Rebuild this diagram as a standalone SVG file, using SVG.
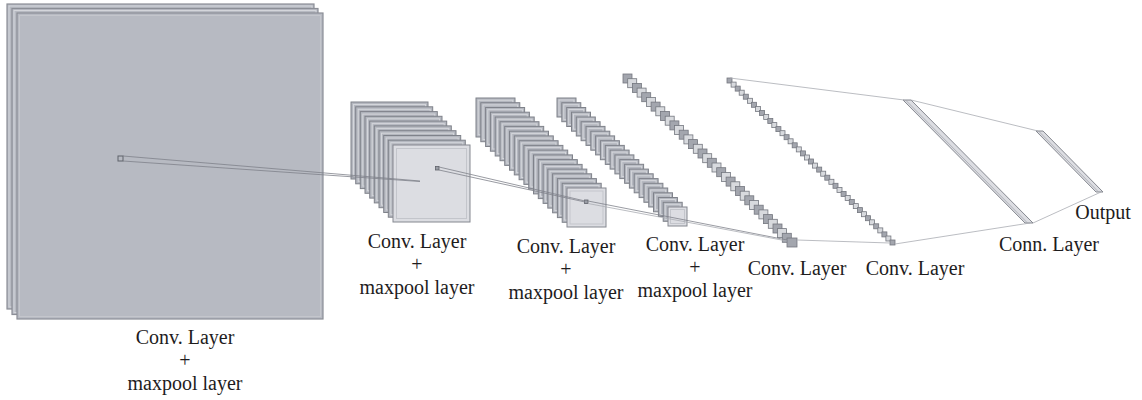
<svg xmlns="http://www.w3.org/2000/svg" xmlns:xlink="http://www.w3.org/1999/xlink" width="1142" height="400" viewBox="0 0 1142 400">
  <style>
    .sheet { fill: #b4b7bf; stroke: #7f828a; stroke-width: 1; }
    .big { fill: #b7bac2; stroke: #8b8e96; stroke-width: 1.2; }
    .rim { fill: none; stroke: #d4d6db; stroke-width: 1; }
    .front { fill: #dcdde2; stroke: #858890; stroke-width: 1; }
    .frontrim { fill: none; stroke: #c3c5cb; stroke-width: 1; }
    .dk { fill: #a3a6ae; stroke: #74777f; stroke-width: 0.8; }
    .lt { fill: #d8dade; stroke: #74777f; stroke-width: 0.8; }
    .bar { fill: #dcdde2; stroke: #858890; stroke-width: 1; }
    .marker { fill: #9a9da5; stroke: #5f626a; stroke-width: 0.8; }
    .link { stroke: #7f828a; stroke-width: 0.8; fill: none; }
    .thin { stroke: #a9acb3; stroke-width: 0.8; fill: none; }
    .lbl { font-size: 20px; fill: #1e1c1d; text-anchor: middle; }
  </style>
  <defs>
    <g id="s77"><rect width="77" height="77" class="sheet"/><rect x="2.5" y="2.5" width="72" height="72" class="rim"/></g>
    <g id="f77"><rect width="77" height="77" class="front"/><rect x="3.5" y="3.5" width="70" height="70" class="frontrim"/></g>
    <g id="s39"><rect width="39" height="39" class="sheet"/><rect x="2.2" y="2.2" width="34.6" height="34.6" class="rim"/></g>
    <g id="f39"><rect width="39" height="39" class="front"/><rect x="3" y="3" width="33" height="33" class="frontrim"/></g>
    <g id="s19"><rect width="19" height="19" class="sheet"/><rect x="2" y="2" width="15" height="15" class="rim"/></g>
    <g id="f19"><rect width="19" height="19" class="front"/><rect x="2.5" y="2.5" width="14" height="14" class="frontrim"/></g>
    <rect id="d9" width="9" height="9" class="dk"/>
    <rect id="l9" width="9" height="9" class="lt"/>
    <rect id="d5" width="5" height="5" class="dk"/>
    <rect id="l5" width="5" height="5" class="lt"/>
  </defs>

  <!-- input layer: three large feature maps -->
  <g id="layer1">
    <rect x="7" y="4" width="307" height="305" class="big"/>
    <rect x="9" y="6" width="303" height="301" class="rim"/>
    <rect x="12" y="8.5" width="306" height="306" class="big"/>
    <rect x="14" y="10.5" width="302" height="302" class="rim"/>
    <rect x="17" y="13" width="306" height="306" class="big"/>
    <rect x="19.5" y="15.5" width="301" height="301" class="rim" style="stroke:#c4c6cc"/>
    <rect x="118" y="156" width="5" height="5" fill="none" stroke="#5f626a" stroke-width="1"/>
  </g>

  <!-- first conv + maxpool stack -->
  <g id="layer2">
    <use xlink:href="#s77" x="351" y="102"/>
    <use xlink:href="#s77" x="355.7" y="106.8"/>
    <use xlink:href="#s77" x="360.3" y="111.6"/>
    <use xlink:href="#s77" x="365" y="116.3"/>
    <use xlink:href="#s77" x="369.7" y="121.1"/>
    <use xlink:href="#s77" x="374.3" y="125.9"/>
    <use xlink:href="#s77" x="379" y="130.7"/>
    <use xlink:href="#s77" x="383.7" y="135.5"/>
    <use xlink:href="#s77" x="388.3" y="140.2"/>
    <use xlink:href="#f77" x="393" y="145"/>
    <rect x="435.5" y="166.5" width="3.5" height="3.5" class="marker"/>
  </g>

  <!-- second conv + maxpool stack -->
  <g id="layer3">
    <use xlink:href="#s39" x="476" y="98"/>
    <use xlink:href="#s39" x="480.8" y="102.7"/>
    <use xlink:href="#s39" x="485.6" y="107.5"/>
    <use xlink:href="#s39" x="490.4" y="112.2"/>
    <use xlink:href="#s39" x="495.2" y="117"/>
    <use xlink:href="#s39" x="500" y="121.7"/>
    <use xlink:href="#s39" x="504.7" y="126.4"/>
    <use xlink:href="#s39" x="509.5" y="131.2"/>
    <use xlink:href="#s39" x="514.3" y="135.9"/>
    <use xlink:href="#s39" x="519.1" y="140.7"/>
    <use xlink:href="#s39" x="523.9" y="145.4"/>
    <use xlink:href="#s39" x="528.7" y="150.1"/>
    <use xlink:href="#s39" x="533.5" y="154.9"/>
    <use xlink:href="#s39" x="538.3" y="159.6"/>
    <use xlink:href="#s39" x="543.1" y="164.4"/>
    <use xlink:href="#s39" x="547.8" y="169.1"/>
    <use xlink:href="#s39" x="552.6" y="173.8"/>
    <use xlink:href="#s39" x="557.4" y="178.6"/>
    <use xlink:href="#s39" x="562.2" y="183.3"/>
    <use xlink:href="#f39" x="567" y="188"/>
    <rect x="584.5" y="200" width="3.5" height="3.5" class="marker"/>
  </g>

  <!-- third conv + maxpool stack -->
  <g id="layer4">
    <use xlink:href="#s19" x="557" y="98"/>
    <use xlink:href="#s19" x="561.8" y="102.7"/>
    <use xlink:href="#s19" x="566.7" y="107.5"/>
    <use xlink:href="#s19" x="571.5" y="112.2"/>
    <use xlink:href="#s19" x="576.3" y="117"/>
    <use xlink:href="#s19" x="581.1" y="121.7"/>
    <use xlink:href="#s19" x="586" y="126.4"/>
    <use xlink:href="#s19" x="590.8" y="131.2"/>
    <use xlink:href="#s19" x="595.6" y="135.9"/>
    <use xlink:href="#s19" x="600.4" y="140.7"/>
    <use xlink:href="#s19" x="605.3" y="145.4"/>
    <use xlink:href="#s19" x="610.1" y="150.1"/>
    <use xlink:href="#s19" x="614.9" y="154.9"/>
    <use xlink:href="#s19" x="619.8" y="159.6"/>
    <use xlink:href="#s19" x="624.6" y="164.3"/>
    <use xlink:href="#s19" x="629.4" y="169.1"/>
    <use xlink:href="#s19" x="634.2" y="173.8"/>
    <use xlink:href="#s19" x="639.1" y="178.6"/>
    <use xlink:href="#s19" x="643.9" y="183.3"/>
    <use xlink:href="#s19" x="648.7" y="188"/>
    <use xlink:href="#s19" x="653.5" y="192.8"/>
    <use xlink:href="#s19" x="658.4" y="197.5"/>
    <use xlink:href="#s19" x="663.2" y="202.3"/>
    <use xlink:href="#f19" x="668" y="207"/>
  </g>

  <!-- fourth conv layer -->
  <g id="layer5">
    <use xlink:href="#d9" x="623" y="74"/>
    <use xlink:href="#l9" x="627.7" y="78.7"/>
    <use xlink:href="#d9" x="632.4" y="83.4"/>
    <use xlink:href="#l9" x="637.1" y="88.1"/>
    <use xlink:href="#d9" x="641.7" y="92.7"/>
    <use xlink:href="#l9" x="646.4" y="97.4"/>
    <use xlink:href="#d9" x="651.1" y="102.1"/>
    <use xlink:href="#l9" x="655.8" y="106.8"/>
    <use xlink:href="#d9" x="660.5" y="111.5"/>
    <use xlink:href="#l9" x="665.2" y="116.2"/>
    <use xlink:href="#d9" x="669.9" y="120.9"/>
    <use xlink:href="#l9" x="674.5" y="125.5"/>
    <use xlink:href="#d9" x="679.2" y="130.2"/>
    <use xlink:href="#l9" x="683.9" y="134.9"/>
    <use xlink:href="#d9" x="688.6" y="139.6"/>
    <use xlink:href="#l9" x="693.3" y="144.3"/>
    <use xlink:href="#d9" x="698" y="149"/>
    <use xlink:href="#l9" x="702.7" y="153.7"/>
    <use xlink:href="#d9" x="707.3" y="158.3"/>
    <use xlink:href="#l9" x="712" y="163"/>
    <use xlink:href="#d9" x="716.7" y="167.7"/>
    <use xlink:href="#l9" x="721.4" y="172.4"/>
    <use xlink:href="#d9" x="726.1" y="177.1"/>
    <use xlink:href="#l9" x="730.8" y="181.8"/>
    <use xlink:href="#d9" x="735.5" y="186.5"/>
    <use xlink:href="#l9" x="740.2" y="191.2"/>
    <use xlink:href="#d9" x="744.8" y="195.8"/>
    <use xlink:href="#l9" x="749.5" y="200.5"/>
    <use xlink:href="#d9" x="754.2" y="205.2"/>
    <use xlink:href="#l9" x="758.9" y="209.9"/>
    <use xlink:href="#d9" x="763.6" y="214.6"/>
    <use xlink:href="#l9" x="768.3" y="219.3"/>
    <use xlink:href="#d9" x="773" y="224"/>
    <use xlink:href="#l9" x="777.6" y="228.6"/>
    <use xlink:href="#d9" x="782.3" y="233.3"/>
    <rect x="787" y="238" width="10" height="9" class="dk"/>
  </g>

  <!-- fifth conv layer -->
  <g id="layer6">
    <use xlink:href="#d5" x="727" y="78"/>
    <use xlink:href="#l5" x="731.1" y="82.1"/>
    <use xlink:href="#d5" x="735.2" y="86.1"/>
    <use xlink:href="#l5" x="739.2" y="90.2"/>
    <use xlink:href="#d5" x="743.3" y="94.2"/>
    <use xlink:href="#l5" x="747.4" y="98.3"/>
    <use xlink:href="#d5" x="751.5" y="102.3"/>
    <use xlink:href="#l5" x="755.5" y="106.4"/>
    <use xlink:href="#d5" x="759.6" y="110.4"/>
    <use xlink:href="#l5" x="763.7" y="114.5"/>
    <use xlink:href="#d5" x="767.8" y="118.5"/>
    <use xlink:href="#l5" x="771.8" y="122.6"/>
    <use xlink:href="#d5" x="775.9" y="126.6"/>
    <use xlink:href="#l5" x="780" y="130.7"/>
    <use xlink:href="#d5" x="784.1" y="134.7"/>
    <use xlink:href="#l5" x="788.1" y="138.8"/>
    <use xlink:href="#d5" x="792.2" y="142.8"/>
    <use xlink:href="#l5" x="796.3" y="146.9"/>
    <use xlink:href="#d5" x="800.4" y="150.9"/>
    <use xlink:href="#l5" x="804.4" y="155"/>
    <use xlink:href="#d5" x="808.5" y="159"/>
    <use xlink:href="#l5" x="812.6" y="163.1"/>
    <use xlink:href="#d5" x="816.7" y="167.1"/>
    <use xlink:href="#l5" x="820.7" y="171.2"/>
    <use xlink:href="#d5" x="824.8" y="175.2"/>
    <use xlink:href="#l5" x="828.9" y="179.3"/>
    <use xlink:href="#d5" x="833" y="183.3"/>
    <use xlink:href="#l5" x="837" y="187.4"/>
    <use xlink:href="#d5" x="841.1" y="191.4"/>
    <use xlink:href="#l5" x="845.2" y="195.5"/>
    <use xlink:href="#d5" x="849.3" y="199.5"/>
    <use xlink:href="#l5" x="853.3" y="203.6"/>
    <use xlink:href="#d5" x="857.4" y="207.6"/>
    <use xlink:href="#l5" x="861.5" y="211.7"/>
    <use xlink:href="#d5" x="865.6" y="215.7"/>
    <use xlink:href="#l5" x="869.6" y="219.8"/>
    <use xlink:href="#d5" x="873.7" y="223.8"/>
    <use xlink:href="#l5" x="877.8" y="227.9"/>
    <use xlink:href="#d5" x="881.9" y="231.9"/>
    <use xlink:href="#l5" x="885.9" y="236"/>
    <use xlink:href="#d5" x="890" y="240"/>
  </g>

  <!-- fully connected layer -->
  <g id="fc">
    <polygon points="903,100 911,100 1033,223 1025,223" class="bar"/>
    <line x1="905.5" y1="100" x2="1027.5" y2="223" stroke="#a3a6ad" stroke-width="0.8"/>
  </g>

  <!-- output layer -->
  <g id="output">
    <polygon points="1036,131 1043,131 1103,192 1096,192" class="bar"/>
    <line x1="1038.5" y1="131" x2="1098.5" y2="192" stroke="#a3a6ad" stroke-width="0.8"/>
  </g>

  <!-- receptive-field and layer connectors -->
  <g id="connectors">
    <line x1="123" y1="156" x2="420" y2="181" class="link"/>
    <line x1="123" y1="161" x2="420" y2="181.5" class="link"/>
    <line x1="439" y1="167" x2="585" y2="201" class="link"/>
    <line x1="439" y1="170" x2="585" y2="202" class="link"/>
    <line x1="588" y1="201" x2="787" y2="240" class="link"/>
    <line x1="588" y1="203.5" x2="787" y2="241" class="thin"/>
    <line x1="797" y1="240" x2="890" y2="243" class="thin"/>
    <line x1="730" y1="78" x2="904" y2="100" class="thin"/>
    <line x1="911" y1="100" x2="1038" y2="131" class="thin"/>
    <line x1="895" y1="244" x2="1030" y2="223" class="thin"/>
    <line x1="1033" y1="223" x2="1101" y2="192" class="thin"/>
  </g>

  <!-- labels -->
  <g id="labels" font-family="'Liberation Serif', 'DejaVu Serif', serif">
    <text class="lbl" x="185" y="344">Conv. Layer</text>
    <text class="lbl" x="185" y="367">+</text>
    <text class="lbl" x="185" y="390">maxpool layer</text>
    <text class="lbl" x="417" y="248">Conv. Layer</text>
    <text class="lbl" x="417" y="271">+</text>
    <text class="lbl" x="417" y="294">maxpool layer</text>
    <text class="lbl" x="566" y="253">Conv. Layer</text>
    <text class="lbl" x="566" y="276">+</text>
    <text class="lbl" x="566" y="299">maxpool layer</text>
    <text class="lbl" x="695" y="251">Conv. Layer</text>
    <text class="lbl" x="695" y="274">+</text>
    <text class="lbl" x="695" y="297">maxpool layer</text>
    <text class="lbl" x="797" y="275">Conv. Layer</text>
    <text class="lbl" x="915" y="275">Conv. Layer</text>
    <text class="lbl" x="1049" y="251">Conn. Layer</text>
    <text class="lbl" x="1103" y="219">Output</text>
  </g>
</svg>
